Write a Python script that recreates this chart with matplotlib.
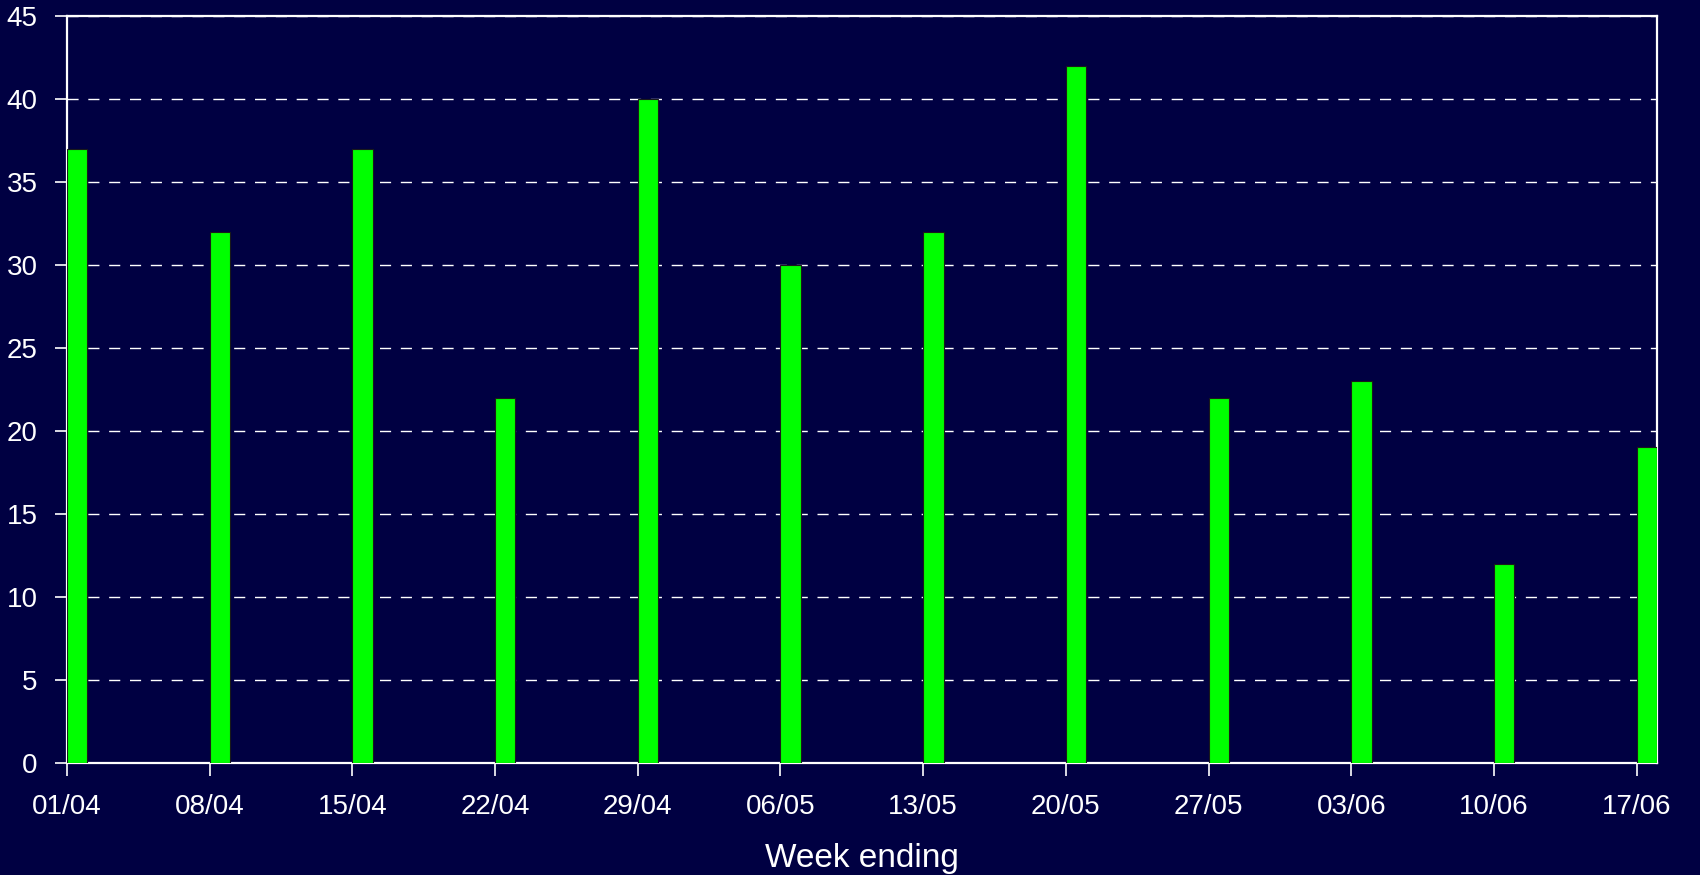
import datetime as dt

import matplotlib
matplotlib.use("Agg")
import matplotlib.pyplot as plt
import matplotlib.dates as mdates

# week ending dates and weekly counts
weeks = ["01/04", "08/04", "15/04", "22/04", "29/04", "06/05",
         "13/05", "20/05", "27/05", "03/06", "10/06", "17/06"]
counts = [37, 32, 37, 22, 40, 30, 32, 42, 22, 23, 12, 19]

YEAR = 2007
dates = [dt.date(YEAR, int(w[3:]), int(w[:2])) for w in weeks]

BG = "#000042"
plt.rcParams["font.family"] = ["Liberation Sans", "DejaVu Sans"]

fig = plt.figure(figsize=(17, 8.75), dpi=100, facecolor=BG)
ax = fig.add_axes([0.0394, 0.128, 0.9353, 0.854], facecolor=BG)

ax.bar(dates, counts, width=1.0, align="edge", color="#00ff00",
       edgecolor="#1a1a1a", linewidth=0.8, zorder=3)

ax.set_ylim(0, 45)
ax.set_yticks(range(0, 46, 5))
ax.set_xlim(mdates.date2num(dates[0]), mdates.date2num(dates[-1]) + 1)
ax.set_xticks(dates)
ax.set_xticklabels(weeks)

ax.grid(axis="y", color="white", linestyle=(0, (8, 7)), linewidth=1.0, zorder=1)
ax.set_axisbelow(True)

for s in ax.spines.values():
    s.set_color("white")
    s.set_linewidth(1.6)

ax.tick_params(axis="both", colors="white", labelcolor="white", labelsize=20,
               length=9, width=1.2, direction="out")
ax.tick_params(axis="x", pad=13)
ax.tick_params(axis="y", pad=12)

ax.set_xlabel("Week ending", color="white", fontsize=24, labelpad=17)

fig.savefig("out.png", dpi=100, facecolor=BG)
